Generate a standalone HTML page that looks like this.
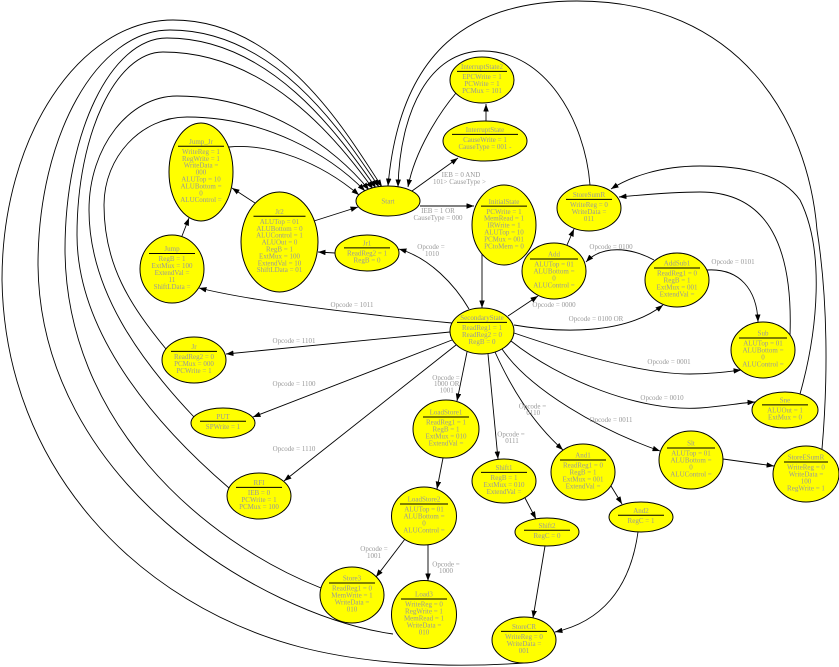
<!DOCTYPE html>
<html><head><meta charset="utf-8"><style>
html,body{margin:0;padding:0;background:#fff;}
svg{display:block;}
text{font-family:"Liberation Serif",serif;font-size:7px;fill:#999;text-anchor:middle;}
.e{fill:none;stroke:#000;stroke-width:0.9;marker-end:url(#a);}
.n{fill:#ffff00;stroke:#000;stroke-width:1;}
.d{stroke:#000;stroke-width:1;}
</style></head><body>
<svg width="839" height="667" viewBox="0 0 839 667" xmlns="http://www.w3.org/2000/svg">
<defs><marker id="a" viewBox="0 0 10 10" refX="10" refY="5" markerWidth="7.5" markerHeight="5.5" markerUnits="userSpaceOnUse" orient="auto" preserveAspectRatio="none"><path d="M0,0 L10,5 L0,10 z" fill="#000"/></marker></defs>
<rect width="839" height="667" fill="#fff"/>

<!-- edges -->
<path class="e" d="M420,206 L474,206"/>
<path class="e" d="M412,191 L458,158"/>
<path class="e" d="M486,121 L486,104"/>
<path class="e" d="M456,93 C440,112 415,150 408,187"/>
<path class="e" d="M590,185 C585,120 545,51 483,51 C430,51 400,110 398,187"/>
<path class="e" d="M822,449 C828,380 828,300 817,230 C808,120 740,1 577,1 C470,1 400,50 388,186"/>
<path class="e" d="M790,335 C793,250 770,192 700,192 C670,192 640,195 619,197"/>
<path class="e" d="M800,394 C818,330 825,250 800,200 C780,172 740,166 700,166 C660,166 630,177 611,189"/>
<path class="e" d="M567,245 L574,229"/>
<path class="e" d="M654,260 C630,247 602,245 586,262"/>
<path class="e" d="M707,270 C740,268 757,290 758,322"/>
<path class="e" d="M514,325 C560,333 625,335 663,305"/>
<path class="e" d="M508,316 L538,296"/>
<path class="e" d="M482,254 L482,308"/>
<path class="e" d="M314,221 L358,207"/>
<path class="e" d="M255,203 L232,188"/>
<path class="e" d="M229,147 C270,143 320,162 359,195"/>
<path class="e" d="M182,236 L189,218"/>
<path class="e" d="M335,253 L318,252"/>
<path class="e" d="M469,309 C455,285 430,258 399,249"/>
<path class="e" d="M452,323 C380,316 260,303 199,288"/>
<path class="e" d="M450,332 L226,354"/>
<path class="e" d="M452,340 L253,417"/>
<path class="e" d="M456,345 L284,481"/>
<path class="e" d="M467,352 L457,401"/>
<path class="e" d="M488,354 L498,459"/>
<path class="e" d="M495,352 C510,385 530,420 563,450"/>
<path class="e" d="M502,349 C530,390 600,430 660,451"/>
<path class="e" d="M511,341 C560,380 640,412 700,408 C725,406 740,403 755,402"/>
<path class="e" d="M514,333 C570,352 640,374 690,374 C710,374 725,372 741,370"/>
<path class="e" d="M723,459 L774,466"/>
<path class="e" d="M443,458 L437,489"/>
<path class="e" d="M428,545 L428,581"/>
<path class="e" d="M405,539 L376,577"/>
<path class="e" d="M525,498 L536,519"/>
<path class="e" d="M545,546 L533,618"/>
<path class="e" d="M611,486 L622,504"/>
<path class="e" d="M638,532 C630,590 600,622 555,632"/>
<!-- big left arcs -->
<path class="e" d="M524,663 C450,668 370,665 300,647 C140,605 5,470 2,280 C2,137 79,20 173,20 C280,20 345,130 382,187"/>
<path class="e" d="M393,634 C260,615 40,480 38,265 C38,136 97,30 170,30 C275,30 342,132 379,187"/>
<path class="e" d="M321,588 C200,540 66,420 65,250 C65,133 111,38 167,38 C270,38 338,134 376,188"/>
<path class="e" d="M229,488 C150,420 77,330 77,235 C77,134 116,52 163,52 C265,52 335,136 373,189"/>
<path class="e" d="M194,417 C140,360 89,290 89,210 C89,147 129,96 177,96 C265,96 335,148 369,190"/>
<path class="e" d="M166,349 C130,305 104,265 104,205 C104,157 141,117 187,117 C265,117 330,155 365,191"/>

<!-- edge labels -->
<text x="438" y="213.2">IEB = 1 OR</text>
<text x="438" y="220.2">CauseType = 000</text>
<text x="461" y="176.8">IEB = 0  AND</text>
<text x="459.5" y="184.2">101&gt; CauseType &gt;</text>
<text x="431" y="249.2">Opcode =</text>
<text x="432" y="255.8">1010</text>
<text x="352" y="306.8">Opcode = 1011</text>
<text x="294" y="343.2">Opcode = 1101</text>
<text x="294" y="385.8">Opcode = 1100</text>
<text x="294" y="451.2">Opcode = 1110</text>
<text x="446" y="379.8">Opcode =</text>
<text x="446.7" y="385.8">1000 OR</text>
<text x="446.7" y="392.5">1001</text>
<text x="511" y="436.5">Opcode =</text>
<text x="512" y="443.2">0111</text>
<text x="532.5" y="408.5">Opcode =</text>
<text x="533.3" y="415.2">0110</text>
<text x="611" y="421.8">Opcode = 0011</text>
<text x="662" y="400.2">Opcode = 0010</text>
<text x="669" y="364.2">Opcode = 0001</text>
<text x="596" y="320.8">Opcode = 0100 OR</text>
<text x="554" y="306.8">Opcode = 0000</text>
<text x="611" y="249.2">Opcode = 0100</text>
<text x="733" y="264.2">Opcode = 0101</text>
<text x="446" y="566.5">Opcode =</text>
<text x="446" y="573.2">1000</text>
<text x="374" y="550.8">Opcode =</text>
<text x="374" y="558.2">1001</text>

<!-- nodes -->
<ellipse class="n" cx="388" cy="201" rx="32" ry="15"/>
<text x="388" y="203.5">Start</text>

<ellipse class="n" cx="201" cy="172" rx="32" ry="49"/>
<text x="201" y="143.9">Jump_Jr</text>
<line class="d" x1="178" x2="224" y1="146.2" y2="146.2"/>
<text x="201" y="153.9">WriteReg = 1</text>
<text x="201" y="160.8">RegWrite = 1</text>
<text x="201" y="167.7">WriteData =</text>
<text x="201" y="174.6">000</text>
<text x="201" y="181.5">ALUTop = 10</text>
<text x="201" y="188.4">ALUBottom =</text>
<text x="201" y="195.3">0</text>
<text x="201" y="202.2">ALUControl =</text>

<ellipse class="n" cx="279.5" cy="242" rx="38.5" ry="50"/>
<text x="279.5" y="213.9">Jr2</text>
<line class="d" x1="253.5" x2="305.5" y1="216.2" y2="216.2"/>
<text x="279.5" y="223.9">ALUTop = 01</text>
<text x="279.5" y="230.8">ALUBottom = 0</text>
<text x="279.5" y="237.7">ALUControl = 1</text>
<text x="279.5" y="244.6">ALUOut = 0</text>
<text x="279.5" y="251.5">RegB = 1</text>
<text x="279.5" y="258.4">ExtMux = 100</text>
<text x="279.5" y="265.3">ExtendVal = 10</text>
<text x="279.5" y="272.2">ShiftLData = 01</text>

<ellipse class="n" cx="172" cy="269" rx="32" ry="34"/>
<text x="172" y="251.2">Jump</text>
<line class="d" x1="149" x2="195" y1="253.5" y2="253.5"/>
<text x="172" y="261.2">RegB = 1</text>
<text x="172" y="268.1">ExtMux = 100</text>
<text x="172" y="275">ExtendVal =</text>
<text x="172" y="281.9">11</text>
<text x="172" y="288.8">ShiftLData =</text>

<ellipse class="n" cx="367" cy="253" rx="32" ry="18"/>
<text x="367" y="245.6">Jr1</text>
<line class="d" x1="344" x2="390" y1="247.9" y2="247.9"/>
<text x="367" y="255.6">ReadReg2 = 1</text>
<text x="367" y="262.5">RegB = 0</text>

<ellipse class="n" cx="194" cy="360" rx="32" ry="23"/>
<text x="194" y="349.1">Jr</text>
<line class="d" x1="171" x2="217" y1="351.4" y2="351.4"/>
<text x="194" y="359.1">ReadReg2 = 0</text>
<text x="194" y="366">PCMux = 000</text>
<text x="194" y="372.9">PCWrite = 1</text>

<ellipse class="n" cx="223" cy="423" rx="32" ry="15"/>
<text x="223" y="419">PUT</text>
<line class="d" x1="200" x2="246" y1="421.3" y2="421.3"/>
<text x="223" y="429">SPWrite = 1</text>

<ellipse class="n" cx="259" cy="496" rx="32" ry="23"/>
<text x="259" y="485.1">RFI</text>
<line class="d" x1="236" x2="282" y1="487.4" y2="487.4"/>
<text x="259" y="495.1">IEB = 0</text>
<text x="259" y="502">PCWrite = 1</text>
<text x="259" y="508.9">PCMux = 100</text>

<ellipse class="n" cx="352" cy="595" rx="32" ry="28"/>
<text x="352" y="580.7">Store3</text>
<line class="d" x1="329" x2="375" y1="583" y2="583"/>
<text x="352" y="590.7">ReadReg1 = 0</text>
<text x="352" y="597.6">MemWrite = 1</text>
<text x="352" y="604.5">WriteData =</text>
<text x="352" y="611.4">010</text>

<ellipse class="n" cx="424" cy="516" rx="32.5" ry="29"/>
<text x="424" y="501.7">LoadStore2</text>
<line class="d" x1="400" x2="448" y1="504" y2="504"/>
<text x="424" y="511.7">ALUTop = 01</text>
<text x="424" y="518.6">ALUBottom =</text>
<text x="424" y="525.5">0</text>
<text x="424" y="532.4">ALUControl =</text>

<ellipse class="n" cx="424" cy="614.5" rx="32.5" ry="34"/>
<text x="424" y="596.7">Load3</text>
<line class="d" x1="401" x2="447" y1="599" y2="599"/>
<text x="424" y="606.7">WriteReg = 0</text>
<text x="424" y="613.6">RegWrite = 1</text>
<text x="424" y="620.5">MemRead = 1</text>
<text x="424" y="627.4">WriteData =</text>
<text x="424" y="634.3">010</text>

<ellipse class="n" cx="446" cy="429" rx="33" ry="29"/>
<text x="446" y="414.7">LoadStore1</text>
<line class="d" x1="423" x2="469" y1="417" y2="417"/>
<text x="446" y="424.7">ReadReg1 = 1</text>
<text x="446" y="431.6">RegB = 1</text>
<text x="446" y="438.5">ExtMux = 010</text>
<text x="446" y="445.4">ExtendVal =</text>

<ellipse class="n" cx="504" cy="481" rx="32" ry="22"/>
<text x="504" y="470.1">Shift1</text>
<line class="d" x1="481" x2="527" y1="472.4" y2="472.4"/>
<text x="504" y="480.1">RegB = 1</text>
<text x="504" y="487">ExtMux = 010</text>
<text x="504" y="493.9">ExtendVal =</text>

<ellipse class="n" cx="547" cy="532" rx="32" ry="14"/>
<text x="547" y="528">Shift2</text>
<line class="d" x1="524" x2="570" y1="530.3" y2="530.3"/>
<text x="547" y="538">RegC = 0</text>

<ellipse class="n" cx="524" cy="640" rx="32" ry="23"/>
<text x="524" y="629.1">StoreCR</text>
<line class="d" x1="501" x2="547" y1="631.4" y2="631.4"/>
<text x="524" y="639.1">WriteReg = 0</text>
<text x="524" y="646">WriteData =</text>
<text x="524" y="652.9">001</text>

<ellipse class="n" cx="583" cy="472" rx="32" ry="28"/>
<text x="583" y="457.7">And1</text>
<line class="d" x1="560" x2="606" y1="460" y2="460"/>
<text x="583" y="467.7">ReadReg1 = 0</text>
<text x="583" y="474.6">RegB = 1</text>
<text x="583" y="481.5">ExtMux = 001</text>
<text x="583" y="488.4">ExtendVal =</text>

<ellipse class="n" cx="641" cy="517" rx="32" ry="15"/>
<text x="641" y="513">And2</text>
<line class="d" x1="618" x2="664" y1="515.3" y2="515.3"/>
<text x="641" y="523">RegC = 1</text>

<ellipse class="n" cx="691" cy="460" rx="32" ry="29"/>
<text x="691" y="445.7">Slt</text>
<line class="d" x1="667" x2="715" y1="448" y2="448"/>
<text x="691" y="455.7">ALUTop = 01</text>
<text x="691" y="462.6">ALUBottom =</text>
<text x="691" y="469.5">0</text>
<text x="691" y="476.4">ALUControl =</text>

<ellipse class="n" cx="806" cy="474" rx="33" ry="28"/>
<text x="806" y="459.7">StoreESumR</text>
<line class="d" x1="784" x2="828" y1="462" y2="462"/>
<text x="806" y="469.7">WriteReg = 0</text>
<text x="806" y="476.6">WriteData =</text>
<text x="806" y="483.5">100</text>
<text x="806" y="490.4">RegWrite = 1</text>

<ellipse class="n" cx="785" cy="410" rx="33" ry="18"/>
<text x="785" y="402.6">Sne</text>
<line class="d" x1="762" x2="808" y1="404.9" y2="404.9"/>
<text x="785" y="412.6">ALUOut = 1</text>
<text x="785" y="419.5">ExtMux = 0</text>

<ellipse class="n" cx="763" cy="350" rx="32" ry="28"/>
<text x="763" y="335.7">Sub</text>
<line class="d" x1="739" x2="787" y1="338" y2="338"/>
<text x="763" y="345.7">ALUTop = 01</text>
<text x="763" y="352.6">ALUBottom =</text>
<text x="763" y="359.5">0</text>
<text x="763" y="366.4">ALUControl =</text>

<ellipse class="n" cx="677" cy="280" rx="32" ry="27"/>
<text x="677" y="265.7">AddSub1</text>
<line class="d" x1="654" x2="700" y1="268" y2="268"/>
<text x="677" y="275.7">ReadReg1 = 0</text>
<text x="677" y="282.6">RegB = 1</text>
<text x="677" y="289.5">ExtMux = 001</text>
<text x="677" y="296.4">ExtendVal =</text>

<ellipse class="n" cx="554" cy="271" rx="32" ry="28"/>
<text x="554" y="256.7">Add</text>
<line class="d" x1="530" x2="578" y1="259" y2="259"/>
<text x="554" y="266.7">ALUTop = 01</text>
<text x="554" y="273.6">ALUBottom =</text>
<text x="554" y="280.5">0</text>
<text x="554" y="287.4">ALUControl =</text>

<ellipse class="n" cx="482" cy="331" rx="32" ry="23"/>
<text x="482" y="320.1">SecondaryState</text>
<line class="d" x1="457" x2="507" y1="322.4" y2="322.4"/>
<text x="482" y="330.1">ReadReg1 = 1</text>
<text x="482" y="337">ReadReg2 = 0</text>
<text x="482" y="343.9">RegB = 0</text>

<ellipse class="n" cx="504" cy="225" rx="32" ry="40"/>
<text x="504" y="203.8">InitialState</text>
<line class="d" x1="481" x2="527" y1="206.1" y2="206.1"/>
<text x="504" y="213.8">PCWrite = 1</text>
<text x="504" y="220.7">MemRead = 1</text>
<text x="504" y="227.6">IRWrite = 1</text>
<text x="504" y="234.5">ALUTop = 10</text>
<text x="504" y="241.4">PCMux = 001</text>
<text x="504" y="248.3">PCtoMem = 0</text>

<ellipse class="n" cx="589" cy="208" rx="32" ry="23"/>
<text x="589" y="197.1">StoreSumR</text>
<line class="d" x1="566" x2="612" y1="199.4" y2="199.4"/>
<text x="589" y="207.1">WriteReg = 0</text>
<text x="589" y="214">WriteData =</text>
<text x="589" y="220.9">011</text>

<ellipse class="n" cx="485" cy="141" rx="42" ry="20"/>
<text x="485" y="132">InterruptState</text>
<line class="d" x1="452" x2="518" y1="134.4" y2="134.4"/>
<text x="485" y="142">CauseWrite = 1</text>
<text x="485" y="149">CauseType = 001 -</text>

<ellipse class="n" cx="482" cy="80" rx="32" ry="23"/>
<text x="482" y="69.1">InterruptState2</text>
<line class="d" x1="457" x2="507" y1="71.4" y2="71.4"/>
<text x="482" y="79.1">EPCWrite = 1</text>
<text x="482" y="86">PCWrite = 1</text>
<text x="482" y="92.9">PCMux = 101</text>
</svg>
</body></html>
